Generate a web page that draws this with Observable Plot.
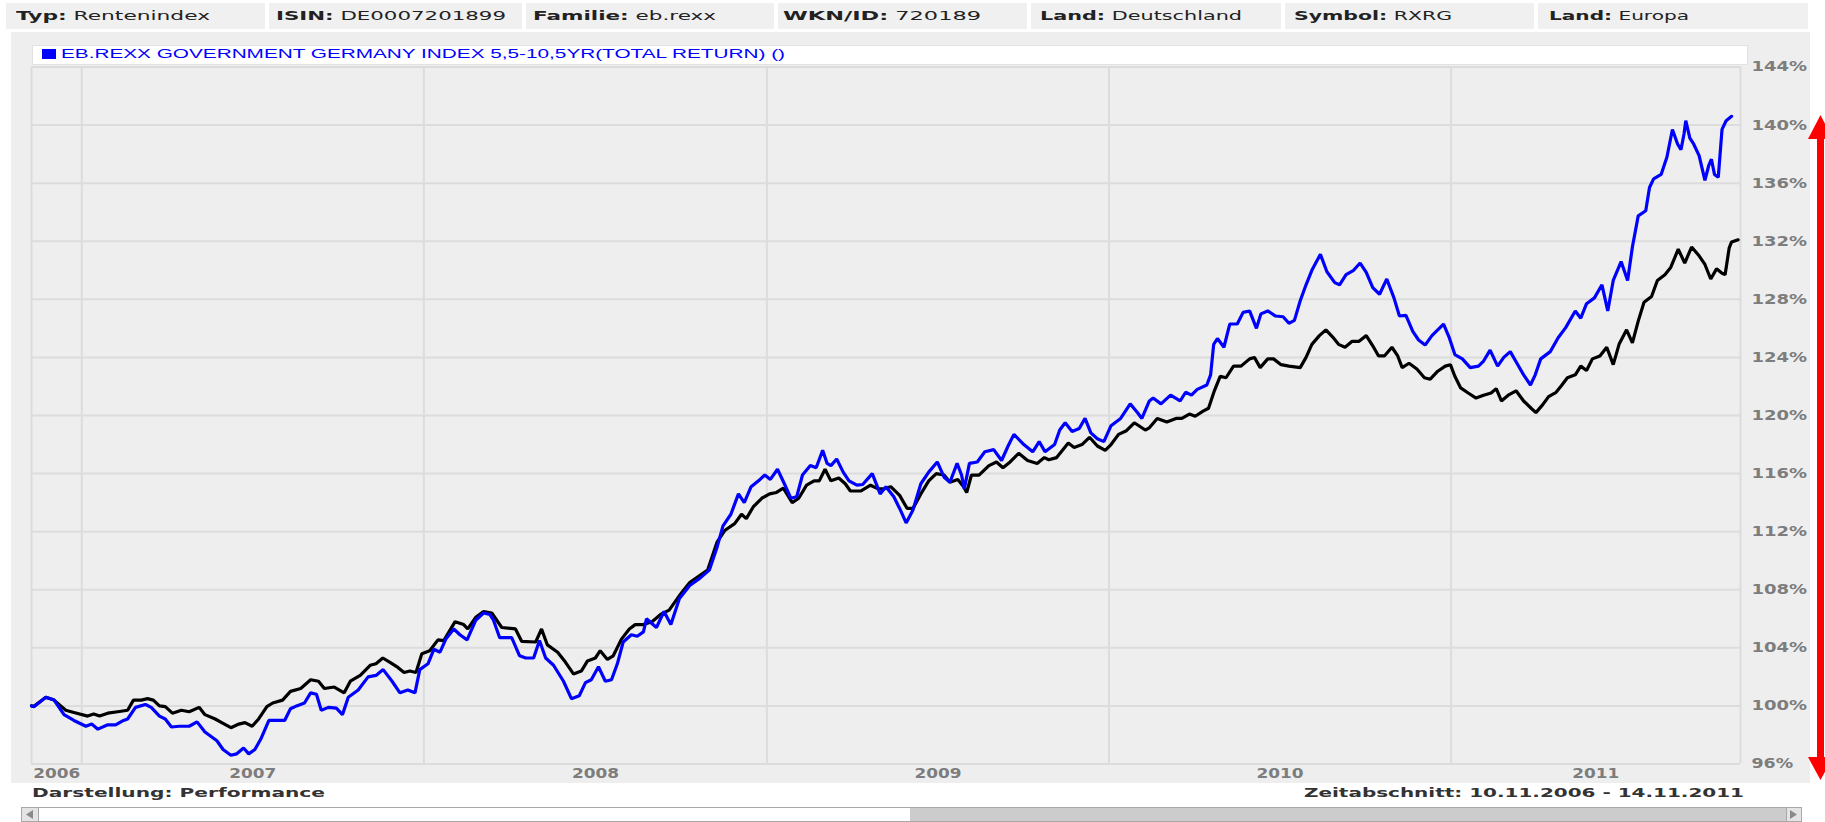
<!DOCTYPE html>
<html><head><meta charset="utf-8">
<script src="https://cdn.jsdelivr.net/npm/d3@7"></script>
<script src="https://cdn.jsdelivr.net/npm/@observablehq/plot@0.6"></script>
<style>
html,body{margin:0;padding:0;background:#fff;width:1825px;height:822px;overflow:hidden;}
body{position:relative;font-family:"DejaVu Sans",Verdana,sans-serif;}
.box{position:absolute;}
.fit{position:absolute;white-space:nowrap;transform-origin:0 50%;}
#chart{position:absolute;left:0;top:0;}
</style></head><body>
<script>
// ---------- data ----------
const headerKeys = ["Typ:", "ISIN:", "Familie:", "WKN/ID:", "Land:", "Symbol:", "Land:"];
const headerValues = ["Rentenindex", "DE0007201899", "eb.rexx", "720189", "Deutschland", "RXRG", "Europa"];
const legendLabel = "EB.REXX GOVERNMENT GERMANY INDEX 5,5-10,5YR(TOTAL RETURN) ()";
const footerLeft = ["Darstellung:", "Performance"];
const footerRight = ["Zeitabschnitt:", "10.11.2006 - 14.11.2011"];
const yTicks = [96, 100, 104, 108, 112, 116, 120, 124, 128, 132, 136, 140, 144];
const yearGrid = [2007, 2008, 2009, 2010, 2011];
const yearLabels = ["2006", "2007", "2008", "2009", "2010", "2011"];
const xStart = 2006.853, xEnd = 2011.846; // decimal years at the plot edges

// [decimal year, percent]
const blueSeries = [
[2006.853,100.0],[2006.860,99.95],[2006.895,100.6],[2006.919,100.4],[2006.948,99.4],[2006.977,99.0],
[2007.012,98.6],[2007.029,98.75],[2007.047,98.4],[2007.076,98.7],[2007.099,98.7],[2007.122,99.0],[2007.134,99.1],
[2007.157,99.9],[2007.186,100.1],[2007.203,99.9],[2007.227,99.3],[2007.244,99.1],[2007.262,98.55],[2007.285,98.6],
[2007.314,98.6],[2007.337,98.9],[2007.360,98.2],[2007.395,97.6],[2007.413,97.0],[2007.436,96.6],[2007.453,96.7],
[2007.473,97.1],[2007.488,96.7],[2007.506,97.0],[2007.523,97.7],[2007.547,99.0],[2007.593,99.0],[2007.610,99.8],
[2007.628,100.0],[2007.651,100.2],[2007.669,100.9],[2007.686,100.8],[2007.700,99.7],[2007.721,99.9],[2007.744,99.85],
[2007.762,99.4],[2007.779,100.6],[2007.808,101.1],[2007.837,102.0],[2007.860,102.1],[2007.881,102.5],[2007.907,101.7],
[2007.930,100.9],[2007.953,101.1],[2007.974,100.9],[2007.988,102.5],[2008.012,102.9],[2008.029,103.9],[2008.047,103.7],
[2008.064,104.6],[2008.087,105.3],[2008.105,104.9],[2008.126,104.55],[2008.151,105.9],[2008.174,106.4],[2008.192,106.3],
[2008.203,105.9],[2008.221,104.7],[2008.256,104.7],[2008.279,103.45],[2008.297,103.3],[2008.320,103.3],[2008.337,104.5],
[2008.355,103.3],[2008.378,102.8],[2008.407,101.7],[2008.430,100.5],[2008.453,100.7],[2008.471,101.6],[2008.488,101.8],
[2008.509,102.7],[2008.529,101.7],[2008.547,101.8],[2008.564,102.9],[2008.581,104.4],[2008.605,104.9],[2008.622,104.8],
[2008.640,105.1],[2008.649,106.0],[2008.678,105.4],[2008.700,106.5],[2008.720,105.6],[2008.745,107.4],[2008.775,108.3],
[2008.805,108.8],[2008.832,109.35],[2008.855,110.95],[2008.872,112.4],[2008.895,113.2],[2008.917,114.6],[2008.934,114.0],
[2008.954,115.1],[2008.980,115.6],[2008.994,115.9],[2009.010,115.6],[2009.031,116.3],[2009.051,115.3],[2009.070,114.3],
[2009.087,114.4],[2009.104,115.9],[2009.127,116.55],[2009.144,116.4],[2009.163,117.6],[2009.176,116.7],[2009.187,116.55],
[2009.204,117.0],[2009.223,116.1],[2009.240,115.5],[2009.263,115.2],[2009.280,115.25],[2009.308,116.0],[2009.331,114.6],
[2009.348,115.1],[2009.371,114.4],[2009.390,113.5],[2009.407,112.6],[2009.427,113.5],[2009.450,115.3],[2009.473,116.1],
[2009.498,116.8],[2009.518,115.75],[2009.535,115.4],[2009.556,116.7],[2009.569,115.9],[2009.577,114.95],[2009.592,116.7],
[2009.615,116.8],[2009.637,117.5],[2009.663,117.65],[2009.686,116.9],[2009.705,117.9],[2009.722,118.7],[2009.751,118.0],
[2009.777,117.5],[2009.796,118.2],[2009.813,117.5],[2009.841,118.0],[2009.856,119.0],[2009.872,119.5],[2009.892,118.9],
[2009.913,119.1],[2009.930,119.8],[2009.947,118.8],[2009.966,118.4],[2009.985,118.2],[2010.006,119.3],[2010.034,119.8],
[2010.062,120.8],[2010.083,120.2],[2010.096,119.8],[2010.118,121.0],[2010.129,121.2],[2010.152,120.8],[2010.180,121.4],
[2010.208,121.0],[2010.224,121.6],[2010.241,121.4],[2010.258,121.8],[2010.286,122.1],[2010.297,122.8],[2010.306,124.9],
[2010.317,125.3],[2010.336,124.7],[2010.353,126.3],[2010.375,126.3],[2010.392,127.1],[2010.411,127.2],[2010.431,126.0],
[2010.444,127.0],[2010.464,127.2],[2010.487,126.85],[2010.509,126.8],[2010.526,126.35],[2010.542,126.55],[2010.559,127.9],
[2010.576,129.0],[2010.593,130.0],[2010.618,131.1],[2010.637,129.9],[2010.660,129.15],[2010.674,129.0],[2010.693,129.7],
[2010.715,130.0],[2010.734,130.5],[2010.752,129.85],[2010.771,128.8],[2010.791,128.35],[2010.812,129.4],[2010.833,128.1],
[2010.849,126.85],[2010.868,126.9],[2010.888,125.8],[2010.905,125.2],[2010.924,124.85],[2010.944,125.5],[2010.961,125.9],
[2010.978,126.3],[2010.994,125.4],[2011.011,124.2],[2011.033,123.9],[2011.056,123.3],[2011.080,123.4],[2011.095,123.75],
[2011.114,124.5],[2011.136,123.4],[2011.154,124.0],[2011.173,124.4],[2011.195,123.5],[2011.212,122.8],[2011.232,122.1],
[2011.246,122.8],[2011.262,123.9],[2011.290,124.4],[2011.313,125.35],[2011.335,126.05],[2011.363,127.2],[2011.379,126.7],
[2011.396,127.7],[2011.419,128.1],[2011.441,129.0],[2011.458,127.2],[2011.474,129.3],[2011.497,130.6],[2011.516,129.3],
[2011.530,131.6],[2011.547,133.75],[2011.569,134.1],[2011.580,135.7],[2011.592,136.3],[2011.614,136.6],[2011.631,137.8],
[2011.647,139.7],[2011.662,138.7],[2011.672,138.3],[2011.681,139.4],[2011.686,140.3],[2011.698,139.1],[2011.709,138.7],
[2011.725,137.9],[2011.742,136.2],[2011.753,137.2],[2011.761,137.65],[2011.770,136.6],[2011.781,136.4],[2011.792,139.7],
[2011.804,140.3],[2011.820,140.6]
];

const blackSeries = [
[2006.853,100.0],[2006.860,99.97],[2006.895,100.6],[2006.919,100.4],[2006.953,99.7],[2006.977,99.55],
[2007.017,99.3],[2007.035,99.45],[2007.052,99.3],[2007.076,99.5],[2007.105,99.6],[2007.134,99.7],[2007.151,100.4],
[2007.174,100.4],[2007.192,100.5],[2007.209,100.4],[2007.227,100.0],[2007.244,99.95],[2007.265,99.5],[2007.291,99.7],
[2007.314,99.6],[2007.343,99.9],[2007.360,99.4],[2007.390,99.1],[2007.413,98.8],[2007.436,98.5],[2007.459,98.75],
[2007.477,98.85],[2007.498,98.6],[2007.517,99.1],[2007.541,99.95],[2007.558,100.2],[2007.587,100.4],[2007.610,101.0],
[2007.640,101.2],[2007.669,101.8],[2007.692,101.7],[2007.709,101.2],[2007.738,101.3],[2007.767,100.9],[2007.785,101.7],
[2007.814,102.1],[2007.843,102.8],[2007.860,102.9],[2007.880,103.3],[2007.901,103.0],[2007.924,102.65],[2007.942,102.3],
[2007.959,102.4],[2007.977,102.3],[2007.994,103.6],[2008.017,103.8],[2008.041,104.55],[2008.058,104.5],[2008.091,105.8],
[2008.116,105.6],[2008.128,105.3],[2008.151,106.1],[2008.174,106.5],[2008.198,106.4],[2008.227,105.4],[2008.267,105.3],
[2008.285,104.45],[2008.326,104.4],[2008.343,105.3],[2008.360,104.2],[2008.390,103.7],[2008.413,103.0],[2008.436,102.2],
[2008.459,102.4],[2008.477,103.1],[2008.500,103.3],[2008.514,103.8],[2008.535,103.2],[2008.552,103.45],[2008.576,104.6],
[2008.599,105.3],[2008.616,105.6],[2008.640,105.6],[2008.665,105.8],[2008.690,106.3],[2008.715,106.6],[2008.745,107.6],
[2008.775,108.5],[2008.805,109.0],[2008.827,109.35],[2008.855,111.3],[2008.878,112.1],[2008.906,112.55],[2008.926,113.2],
[2008.940,112.9],[2008.960,113.7],[2008.985,114.3],[2009.008,114.6],[2009.028,114.7],[2009.048,115.0],[2009.074,114.0],
[2009.093,114.3],[2009.116,115.2],[2009.138,115.5],[2009.153,115.5],[2009.170,116.3],[2009.187,115.5],[2009.210,115.7],
[2009.229,115.3],[2009.244,114.8],[2009.274,114.8],[2009.303,115.2],[2009.325,114.95],[2009.342,114.95],[2009.362,115.1],
[2009.388,114.5],[2009.410,113.6],[2009.427,113.6],[2009.450,114.6],[2009.473,115.5],[2009.495,116.0],[2009.518,115.9],
[2009.535,115.4],[2009.558,115.6],[2009.575,115.1],[2009.584,114.7],[2009.598,115.9],[2009.620,115.9],[2009.649,116.55],
[2009.671,116.8],[2009.690,116.4],[2009.711,116.8],[2009.736,117.4],[2009.762,116.9],[2009.790,116.7],[2009.811,117.1],
[2009.824,116.95],[2009.847,117.1],[2009.881,118.1],[2009.898,117.8],[2009.921,118.0],[2009.943,118.5],[2009.966,117.9],
[2009.989,117.6],[2010.006,118.0],[2010.028,118.7],[2010.051,118.95],[2010.074,119.5],[2010.106,119.0],[2010.118,119.15],
[2010.141,119.8],[2010.169,119.55],[2010.196,119.8],[2010.213,119.8],[2010.235,120.1],[2010.252,119.95],[2010.275,120.3],
[2010.291,120.5],[2010.308,121.7],[2010.325,122.7],[2010.342,122.6],[2010.364,123.4],[2010.386,123.4],[2010.411,123.9],
[2010.425,124.0],[2010.442,123.3],[2010.464,123.9],[2010.481,123.9],[2010.503,123.5],[2010.526,123.4],[2010.559,123.3],
[2010.576,124.0],[2010.593,124.9],[2010.615,125.5],[2010.634,125.9],[2010.654,125.4],[2010.671,124.9],[2010.690,124.7],
[2010.710,125.1],[2010.730,125.1],[2010.752,125.5],[2010.771,124.8],[2010.788,124.1],[2010.805,124.1],[2010.827,124.7],
[2010.844,124.1],[2010.857,123.3],[2010.877,123.6],[2010.900,123.2],[2010.922,122.6],[2010.939,122.5],[2010.961,123.05],
[2010.983,123.4],[2010.998,123.5],[2011.011,122.7],[2011.028,121.9],[2011.050,121.55],[2011.073,121.2],[2011.095,121.4],
[2011.117,121.55],[2011.132,121.85],[2011.147,121.0],[2011.167,121.4],[2011.190,121.7],[2011.212,121.0],[2011.234,120.5],
[2011.248,120.2],[2011.268,120.75],[2011.285,121.3],[2011.307,121.6],[2011.324,122.1],[2011.340,122.6],[2011.363,122.8],
[2011.379,123.4],[2011.396,123.1],[2011.413,123.9],[2011.435,124.1],[2011.455,124.7],[2011.474,123.5],[2011.491,124.9],
[2011.513,125.9],[2011.530,125.0],[2011.547,126.5],[2011.564,127.8],[2011.586,128.2],[2011.603,129.3],[2011.625,129.7],
[2011.642,130.2],[2011.664,131.45],[2011.683,130.5],[2011.703,131.6],[2011.725,131.0],[2011.742,130.4],[2011.759,129.4],
[2011.776,130.1],[2011.792,129.8],[2011.801,129.7],[2011.813,131.55],[2011.820,131.95],[2011.839,132.1]
];

// ---------- helpers ----------
const toDate = y => { const yr = Math.floor(y); const s = Date.UTC(yr,0,1), e = Date.UTC(yr+1,0,1); return new Date(s + (y-yr)*(e-s)); };
const body = document.body;
function box(left, top, w, h, css) {
  const d = document.createElement('div'); d.className = 'box';
  d.style.cssText = `left:${left}px;top:${top}px;width:${w}px;height:${h}px;` + (css||'');
  body.appendChild(d); return d;
}
function fitText(html, left, cy, width, size, css) {
  const s = document.createElement('div'); s.className = 'fit';
  s.style.cssText = `left:${left}px;top:${cy - size*0.62}px;font-size:${size}px;line-height:${size*1.2}px;` + (css||'');
  s.innerHTML = html; body.appendChild(s);
  const nat = s.getBoundingClientRect().width;
  s.style.transform = `scaleX(${width/nat})`;
  return s;
}

// ---------- header ----------
const cellLefts = [6, 269, 526, 778, 1031, 1285, 1538];
const cellRights = [265, 522, 774, 1027, 1281, 1534, 1808];
const textLefts = [16, 276, 533, 783, 1040, 1294, 1549];
const textWidths = [194, 230, 183, 198, 202, 158, 140];
headerKeys.forEach((k, i) => {
  box(cellLefts[i], 3, cellRights[i]-cellLefts[i], 26, 'background:#f0f0f0;');
});
// chart panel
box(11, 32, 1799, 751, 'background:#eeeeee;');
// legend box
box(32, 45, 1716, 20, 'background:#ffffff;box-sizing:border-box;border:1px solid #e2e2e2;z-index:3;');
box(42, 49, 14, 10, 'background:#0000ff;z-index:4;');

// ---------- plot ----------
const rows = s => s.map(([y, v]) => ({date: toDate(y), value: v}));
const d0 = toDate(xStart), d1 = toDate(xEnd);
const labelBounds = [xStart, ...yearGrid, xEnd];
const xLabelData = yearLabels.map((t, i) => ({label: t, date: toDate((labelBounds[i] + labelBounds[i+1]) / 2)}));

const chart = Plot.plot({
  width: 1825, height: 822,
  marginLeft: 31, marginRight: 85, marginTop: 66.5, marginBottom: 58.5,
  x: {type: "utc", domain: [d0, d1], axis: null},
  y: {domain: [96, 144], axis: null},
  style: {background: "transparent", overflow: "visible", fontFamily: "DejaVu Sans, Verdana, sans-serif"},
  marks: [
    Plot.ruleY(yTicks, {stroke: "#dcdcdc", strokeWidth: 2}),
    Plot.ruleX([d0, ...yearGrid.map(toDate), d1], {stroke: "#dcdcdc", strokeWidth: 2}),
    Plot.line(rows(blackSeries), {x: "date", y: "value", stroke: "#000000", strokeWidth: 3.2, strokeLinejoin: "miter"}),
    Plot.line(rows(blueSeries), {x: "date", y: "value", stroke: "#0000ff", strokeWidth: 3.2, strokeLinejoin: "miter"}),
    Plot.text(yTicks, {x: d1, y: d => d, text: d => d + "%", dx: 11, textAnchor: "start", fill: "#7d7d7d", fontSize: 14, fontWeight: "bold", className: "ylab"}),
    Plot.text(xLabelData, {x: "date", y: 96, text: "label", dy: 10, textAnchor: "middle", fill: "#7d7d7d", fontSize: 14, fontWeight: "bold", className: "xlab"})
  ]
});
chart.id = "chart";
chart.style.zIndex = 2;
body.appendChild(chart);
chart.querySelectorAll(".ylab text").forEach(t => {
  t.setAttribute("textLength", t.textContent.length * 13.9);
  t.setAttribute("lengthAdjust", "spacingAndGlyphs");
});
chart.querySelectorAll(".xlab text").forEach(t => {
  t.setAttribute("textLength", 47);
  t.setAttribute("lengthAdjust", "spacingAndGlyphs");
});

// ---------- texts ----------
headerKeys.forEach((k, i) => {
  fitText(`<b>${k}</b> ${headerValues[i]}`, textLefts[i], 16.5, textWidths[i], 12, 'color:#222;z-index:5;');
});
fitText(legendLabel, 61, 54.5, 724, 12.5, 'color:#0000ff;font-family:"Liberation Sans",Arial,sans-serif;z-index:5;');
fitText(`${footerLeft[0]} ${footerLeft[1]}`, 32, 793.5, 293, 12, 'color:#333;font-weight:bold;z-index:5;');
fitText(`${footerRight[0]} ${footerRight[1]}`, 1304, 793.5, 440, 12, 'color:#333;font-weight:bold;z-index:5;');

// ---------- scrollbar ----------
box(21, 807, 1781, 15, 'background:#fff;box-sizing:border-box;border:1px solid #a8a8a8;');
box(910, 808, 876, 13, 'background:#cccccc;');
box(21, 807, 18, 15, 'background:#e4e4e4;box-sizing:border-box;border:1px solid #a8a8a8;');
box(1786, 807, 16, 15, 'background:#e4e4e4;box-sizing:border-box;border:1px solid #a8a8a8;');
const ns = "http://www.w3.org/2000/svg";
const deco = document.createElementNS(ns, "svg");
deco.setAttribute("width", 1825); deco.setAttribute("height", 822);
deco.style.cssText = "position:absolute;left:0;top:0;z-index:6;pointer-events:none;";
const addPoly = (pts, fill) => { const p = document.createElementNS(ns, "polygon"); p.setAttribute("points", pts); p.setAttribute("fill", fill); deco.appendChild(p); };
addPoly("26,814.5 33,810 33,819", "#8a8a8a");
addPoly("1797,814.5 1790,810 1790,819", "#8a8a8a");
// red double arrow annotation
const sh = document.createElementNS(ns, "rect");
sh.setAttribute("x", 1817); sh.setAttribute("y", 136); sh.setAttribute("width", 7); sh.setAttribute("height", 624); sh.setAttribute("fill", "#ff0000");
deco.appendChild(sh);
addPoly("1820.5,115 1808,139 1833,139", "#ff0000");
addPoly("1820.5,780 1808,757 1833,757", "#ff0000");
body.appendChild(deco);
</script>
</body></html>
